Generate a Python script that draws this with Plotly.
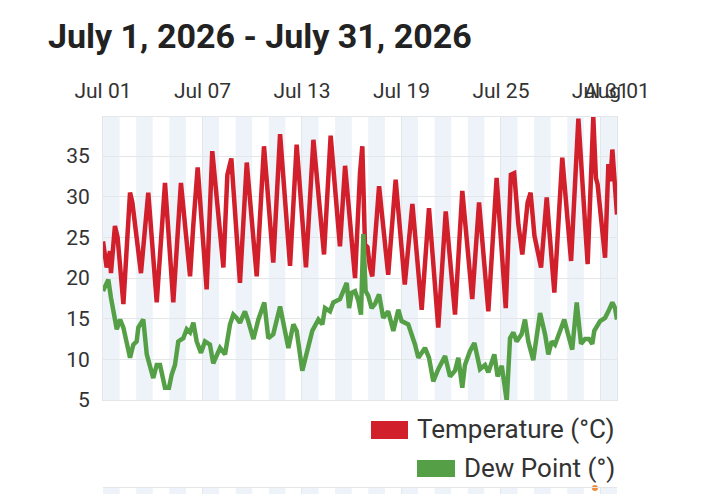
import pandas as pd
import plotly.graph_objects as go

start = pd.Timestamp("2026-07-01")

# temperature, read at turning points (days since Jul 1 00:00, deg C)
temp_days = [0, 0.22, 0.42, 0.48, 0.72, 0.88, 1.23, 1.63, 1.77, 2.03, 2.29, 2.73, 3.24, 3.74,
             4.24, 4.70, 5.25, 5.45, 5.71, 6.25, 6.59, 7.26, 7.50, 7.74, 8.26, 8.67, 9.27, 9.71,
             10.27, 10.68, 11.28, 11.68, 12.24, 12.69, 13.33, 13.73, 14.29, 14.60, 15.20, 15.50,
             15.64, 15.80, 15.95, 16.10, 16.24, 16.65, 17.20, 17.65, 17.95, 18.20, 18.66, 19.22,
             19.66, 20.22, 20.67, 21.23, 21.67, 22.27, 22.68, 23.24, 23.74, 24.29, 24.60, 24.80,
             25.05, 25.29, 25.61, 25.79, 26.02, 26.42, 26.76, 27.22, 27.70, 28.23, 28.67, 29.23,
             29.57, 29.73, 29.83, 30.28, 30.48, 30.60, 30.72, 31.0]
temp_c = [24.5, 21.3, 23.3, 20.6, 26.4, 25.0, 16.8, 30.5, 29.3, 24.5, 20.6, 30.5, 17.0, 31.7,
          17.0, 31.7, 20.2, 26.6, 33.6, 18.6, 35.6, 21.3, 32.7, 34.7, 19.4, 34.2, 20.2, 36.2,
          21.9, 37.7, 21.5, 36.4, 21.3, 37.0, 22.9, 37.5, 23.9, 33.8, 20.0, 32.9,
          36.2, 24.1, 23.8, 21.3, 20.2, 31.3, 20.4, 32.1, 24.2, 19.2, 29.1, 16.1,
          28.6, 13.9, 28.2, 15.5, 30.7, 17.4, 29.3, 15.9, 32.3, 16.3, 32.7, 32.9,
          26.6, 22.9, 29.3, 30.5, 25.2, 21.3, 29.9, 18.2, 34.8, 22.1, 39.6, 21.7,
          39.8, 32.3, 31.5, 22.5, 34.0, 31.9, 35.8, 27.8]

# dew point
dew_days = [0, 0.32, 0.48, 0.72, 0.83, 1.03, 1.23, 1.63, 1.83, 2.03, 2.13, 2.43, 2.64, 3.03,
            3.24, 3.44, 3.74, 3.98, 4.14, 4.34, 4.54, 4.84, 5.05, 5.25, 5.45, 5.65, 5.91, 6.15,
            6.45, 6.65, 7.06, 7.36, 7.66, 7.86, 8.06, 8.26, 8.56, 8.76, 9.07, 9.37, 9.73, 9.97,
            10.27, 10.68, 10.98, 11.18, 11.48, 11.68, 12.02, 12.29, 12.62, 12.99, 13.23, 13.39,
            13.69, 13.89, 14.29, 14.70, 14.84, 15.0, 15.2, 15.4, 15.56, 15.70, 15.84, 16.0,
            16.2, 16.4, 16.65, 16.9, 17.2, 17.51, 17.81, 18.01, 18.41, 18.82, 19.02, 19.42,
            19.66, 19.92, 20.22, 20.63, 20.93, 21.23, 21.43, 21.67, 21.83, 22.13, 22.4, 22.74,
            23.04, 23.24, 23.6, 23.8, 24.05, 24.35, 24.55, 24.75, 24.95, 25.25, 25.45, 25.65,
            25.95, 26.36, 26.66, 26.86, 27.06, 27.26, 27.5, 27.82, 28.02, 28.3, 28.57, 28.83,
            29.07, 29.31, 29.51, 29.63, 29.98, 30.28, 30.48, 30.72, 30.88, 31.0]
dew_c = [18.4, 19.8, 17.6, 14.9, 13.7, 14.9, 13.9, 10.2, 11.8, 12.2, 13.9, 14.9, 10.6, 7.7,
         9.3, 9.3, 6.5, 6.5, 8.1, 9.3, 12.2, 12.6, 13.7, 13.3, 14.5, 12.2, 10.8, 12.2,
         11.8, 9.5, 11.4, 10.6, 14.3, 15.5, 15.1, 14.5, 15.9, 14.7, 12.5, 14.9, 17.0, 12.6,
         13.1, 16.5, 13.1, 11.4, 14.3, 13.5, 8.6, 10.6, 13.5, 14.9, 14.3, 16.3,
         15.9, 17.0, 17.4, 19.4, 16.3, 18.2, 18.4, 17.2, 15.5, 25.4, 18.4, 17.8,
         16.3, 16.8, 18.0, 15.1, 15.9, 13.5, 16.1, 14.7, 14.3, 11.8, 10.2, 11.4,
         10.2, 7.3, 8.8, 10.4, 7.9, 8.6, 10.2, 6.5, 9.3, 11.0, 12.0, 8.8,
         9.3, 8.4, 10.6, 7.9, 9.2, 4.9, 12.6, 13.3, 12.2, 13.1, 14.9, 12.2,
         9.9, 15.7, 13.1, 10.6, 12.2, 11.8, 13.3, 14.9, 13.3, 11.2, 17.0, 11.9,
         12.5, 12.5, 11.9, 13.5, 14.7, 15.1, 15.9, 17.0, 16.3, 14.9]

tick_days = [0, 6, 12, 18, 24, 30, 31]
tick_text = ["Jul 01", "Jul 07", "Jul 13", "Jul 19", "Jul 25", "Jul 31", "Aug 01"]
rain_day = [29.67]

def to_time(days):
    return [start + pd.Timedelta(days=d) for d in days]

red = "#d21f2c"
green = "#55a046"
grid = "#e4e7ea"

fig = go.Figure()
fig.add_trace(go.Scatter(x=to_time(temp_days), y=temp_c, mode="lines",
                         line=dict(color=red, width=4.5), name="Temperature (°C)"))
fig.add_trace(go.Scatter(x=to_time(dew_days), y=dew_c, mode="lines",
                         line=dict(color=green, width=4.5), name="Dew Point (°)"))
fig.add_trace(go.Scatter(x=to_time(rain_day), y=[1], mode="markers", xaxis="x2", yaxis="y2",
                         marker=dict(color="#f08a3c", size=6), cliponaxis=False))

# alternating day shading, main chart and the strip below
shapes = []
for d in range(0, 31, 2):
    for yref in ["y domain", "y2 domain"]:
        shapes.append(dict(type="rect", xref="x", yref=yref,
                           x0=start + pd.Timedelta(days=d), x1=start + pd.Timedelta(days=d + 1),
                           y0=0, y1=1, fillcolor="#edf3f9", line_width=0, layer="below"))

# page has an 8px body margin, so positions below are in page pixels
W, H = 514, 385
def px(xp):
    return (xp - 103) / W
def py(yp):
    return (502 - yp) / H

shapes.append(dict(type="rect", xref="paper", yref="paper", x0=px(371), x1=px(408),
                   y0=py(439), y1=py(421), fillcolor=red, line_width=0))
shapes.append(dict(type="rect", xref="paper", yref="paper", x0=px(417), x1=px(455),
                   y0=py(477), y1=py(460), fillcolor=green, line_width=0))

annotations = [
    dict(text="<b>July 1, 2026 - July 31, 2026</b>", xref="paper", yref="paper",
         x=px(46), y=py(36), xanchor="left", yanchor="middle", showarrow=False,
         font=dict(size=34, color="#222222")),
    dict(text="Temperature (°C)", xref="paper", yref="paper", x=px(617), y=py(429),
         xanchor="right", yanchor="middle", showarrow=False, font=dict(size=26, color="#333333")),
    dict(text="Dew Point (°)", xref="paper", yref="paper", x=px(617), y=py(468),
         xanchor="right", yanchor="middle", showarrow=False, font=dict(size=26, color="#333333")),
]

x_range = [start, start + pd.Timedelta(days=31)]
fig.update_layout(
    width=720, height=494,
    margin=dict(l=95, r=111, t=109, b=0, autoexpand=False),
    paper_bgcolor="white", plot_bgcolor="white",
    font=dict(family="Roboto", color="#333333"),
    showlegend=False,
    shapes=shapes,
    annotations=annotations,
    xaxis=dict(side="top", range=x_range, tickvals=to_time(tick_days), ticktext=tick_text,
               tickangle=0, automargin=False,
               ticks="", ticklabelstandoff=10, tickfont=dict(size=21, color="#333333"),
               showgrid=True, gridcolor=grid, gridwidth=1, zeroline=False,
               showline=True, linecolor=grid, mirror=True),
    yaxis=dict(domain=[py(400), 1], range=[5, 39.8], tickvals=[5, 10, 15, 20, 25, 30, 35],
               automargin=False,
               ticks="", ticklabelstandoff=8, tickfont=dict(size=21, color="#333333"),
               showgrid=True, gridcolor=grid, gridwidth=1, zeroline=False,
               showline=True, linecolor=grid, mirror=True),
    xaxis2=dict(anchor="y2", matches="x", range=x_range, tickvals=to_time(tick_days),
                showticklabels=False, ticks="", showgrid=True, gridcolor=grid, automargin=False,
                showline=True, linecolor=grid, mirror=True, zeroline=False),
    yaxis2=dict(domain=[0, py(488)], range=[0, 1], showticklabels=False, showgrid=False,
                zeroline=False, ticks=""),
)

fig.write_html("out.html")
